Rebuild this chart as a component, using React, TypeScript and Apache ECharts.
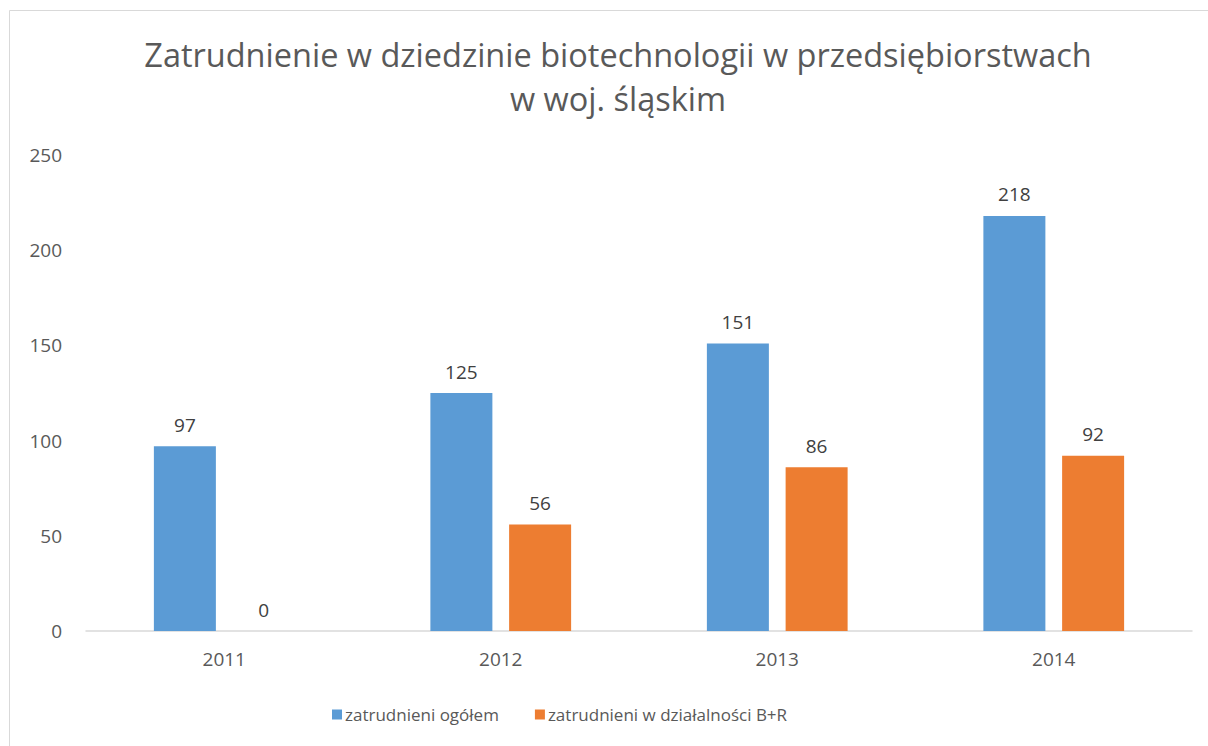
import React, { useEffect, useRef } from "react";
import * as echarts from "echarts";

const categories = ["2011", "2012", "2013", "2014"];
const seriesTotalName = "zatrudnieni ogółem";
const seriesTotal = [97, 125, 151, 218];
const seriesRDName = "zatrudnieni w działalności B+R";
const seriesRD = [0, 56, 86, 92];
const titleLines = ["Zatrudnienie w dziedzinie biotechnologii w przedsiębiorstwach", "w woj. śląskim"];

const FONT = "'Open Sans', 'Noto Sans', sans-serif";

export default function App() {
  const ref = useRef<HTMLDivElement>(null);
  useEffect(() => {
    if (!ref.current) return;
    const chart = echarts.init(ref.current, undefined, { renderer: "svg" });
    const label = {
      show: true,
      position: "top" as const,
      distance: 12,
      color: "#404040",
      fontSize: 19,
      fontFamily: FONT,
    };
    chart.setOption({
      animation: false,
      backgroundColor: "#ffffff",
      textStyle: { fontFamily: FONT },
      title: {
        text: titleLines.join("\n"),
        left: 613,
        textAlign: "center",
        top: 27,
        textStyle: {
          color: "#595959",
          fontSize: 32.5,
          fontWeight: "normal",
          fontFamily: FONT,
          lineHeight: 44,
        },
      },
      graphic: [
        {
          type: "rect",
          shape: { x: 9.5, y: 10.5, width: 1400, height: 900 },
          style: { fill: "none", stroke: "#d9d9d9", lineWidth: 1 },
          silent: true,
          z: -1,
        },
      ],
      legend: {
        bottom: 18,
        left: 327,
        itemWidth: 10,
        itemHeight: 10,
        itemGap: 36,
        icon: "rect",
        textStyle: { color: "#595959", fontSize: 17, fontFamily: FONT, padding: [0, 0, 0, -2] },
        data: [seriesTotalName, seriesRDName],
      },
      grid: { left: 86, right: 16, top: 155, bottom: 115, containLabel: false },
      xAxis: {
        type: "category",
        data: categories,
        axisLine: { lineStyle: { color: "#d9d9d9", width: 1.5 } },
        axisTick: { show: false },
        axisLabel: { color: "#595959", fontSize: 19, fontFamily: FONT, margin: 18 },
      },
      yAxis: {
        type: "value",
        min: 0,
        max: 250,
        interval: 50,
        splitLine: { show: false },
        axisLine: { show: false },
        axisTick: { show: false },
        axisLabel: { color: "#595959", fontSize: 19, fontFamily: FONT, margin: 24 },
      },
      series: [
        {
          name: seriesTotalName,
          type: "bar",
          data: seriesTotal,
          barWidth: 62,
          barGap: "27%",
          itemStyle: { color: "#5B9BD5" },
          label,
        },
        {
          name: seriesRDName,
          type: "bar",
          data: seriesRD,
          barWidth: 62,
          barGap: "27%",
          itemStyle: { color: "#ED7D31" },
          label,
        },
      ],
    });
    return () => chart.dispose();
  }, []);
  return (
    <div
      ref={ref}
      style={{ position: "fixed", left: 0, top: 0, width: 1208, height: 746 }}
    />
  );
}
